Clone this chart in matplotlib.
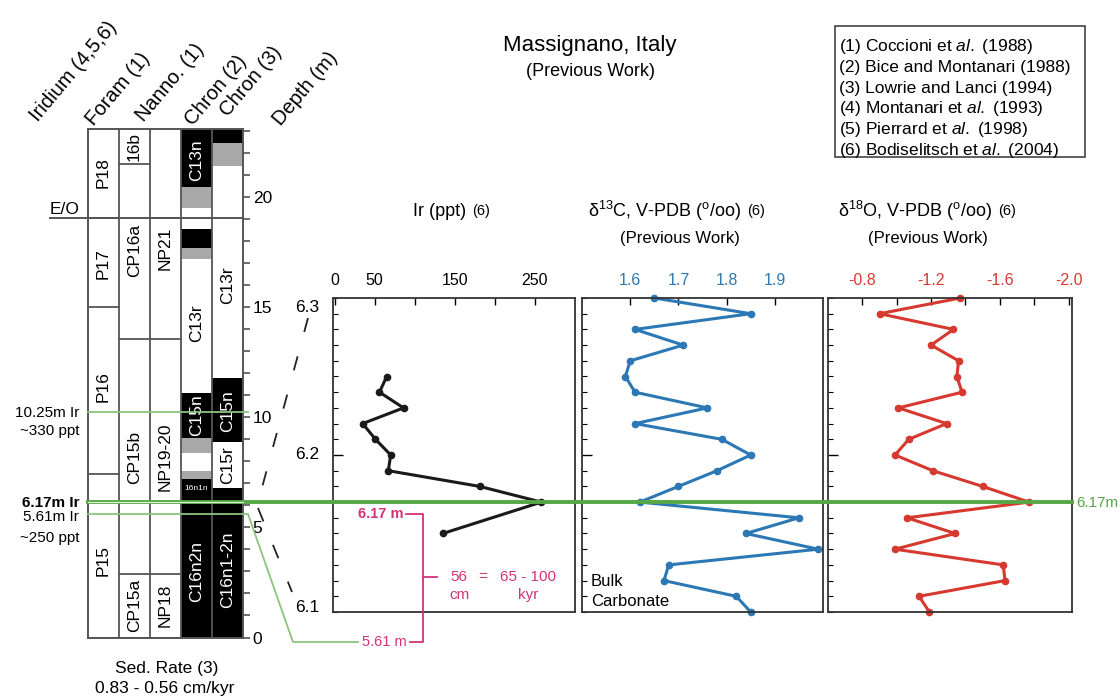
import matplotlib
matplotlib.use('Agg')
import matplotlib.pyplot as plt
from matplotlib.patches import Rectangle
from matplotlib.ticker import MultipleLocator

plt.rcParams['font.family'] = ['Liberation Sans', 'DejaVu Sans']
plt.rcParams['mathtext.fontset'] = 'custom'
plt.rcParams['mathtext.rm'] = 'Liberation Sans'
plt.rcParams['mathtext.it'] = 'Liberation Sans:italic'
plt.rcParams['mathtext.bf'] = 'Liberation Sans:bold'

W, H = 1120, 698

# ---- data ----
ir_depth = [6.25, 6.24, 6.23, 6.22, 6.21, 6.20, 6.19, 6.18, 6.17, 6.15]
ir_ppt = [65, 56, 86, 35, 51, 70, 67, 181, 258, 135]

iso_depth = [6.30, 6.29, 6.28, 6.27, 6.26, 6.25, 6.24, 6.23, 6.22, 6.21, 6.20,
             6.19, 6.18, 6.17, 6.16, 6.15, 6.14, 6.13, 6.12, 6.11, 6.10]
d13c = [1.65, 1.85, 1.61, 1.71, 1.60, 1.59, 1.61, 1.76, 1.61, 1.79, 1.85,
        1.78, 1.70, 1.62, 1.95, 1.84, 1.99, 1.68, 1.67, 1.82, 1.85]
d18o = [-1.37, -0.90, -1.33, -1.20, -1.36, -1.35, -1.38, -1.01, -1.29, -1.07, -0.99,
        -1.21, -1.50, -1.77, -1.06, -1.34, -0.99, -1.62, -1.63, -1.13, -1.19]

col_top = 23.1
eo_depth = 19.05

foram_names = ['P18', 'P17', 'P16', 'P15']
foram_bases = [19.05, 15.0, 7.45, 0]
foram_label_depth = [21.1, 17.0, 11.4, 3.5]

cp_names = ['16b', 'CP16a', 'CP15b', 'CP15a']
cp_bases = [21.5, 13.55, 2.9, 0]
cp_label_depth = [22.3, 17.6, 8.2, 1.45]

np_names = ['', 'NP21', 'NP19-20', 'NP18']
np_bases = [19.05, 13.55, 2.9, 0]
np_label_depth = [21.0, 17.7, 8.2, 1.45]

# polarity: n = normal (black), t = transitional (grey), r = reversed (white)
chron2_tops = [23.1, 20.45, 19.5, 18.55, 17.7, 17.2, 11.1, 9.05, 8.4, 7.55, 7.2]
chron2_bases = [20.45, 19.5, 18.55, 17.7, 17.2, 11.1, 9.05, 8.4, 7.55, 7.2, 0]
chron2_pol = ['n', 't', 'r', 'n', 't', 'r', 'n', 't', 'r', 't', 'n']
chron2_names = ['C13n', 'C13r', 'C15n', 'C16n2n']
chron2_label_depth = [21.7, 14.3, 10.1, 3.0]

chron3_tops = [23.1, 22.45, 21.4, 11.8, 8.9, 6.8]
chron3_bases = [22.45, 21.4, 11.8, 8.9, 6.8, 0]
chron3_pol = ['n', 't', 'r', 'n', 'r', 'n']
chron3_names = ['C13r', 'C15n', 'C15r', 'C16n1-2n']
chron3_label_depth = [16.0, 10.3, 7.85, 3.1]

refs = ['(1) Coccioni et $\\mathit{al.}$ (1988)',
        '(2) Bice and Montanari (1988)',
        '(3) Lowrie and Lanci (1994)',
        '(4) Montanari et $\\mathit{al.}$ (1993)',
        '(5) Pierrard et $\\mathit{al.}$ (1998)',
        '(6) Bodiselitsch et $\\mathit{al.}$ (2004)']

# ---- styles ----
frame_c = '#555555'
blue = '#2b78b4'
red = '#d6392f'
pink = '#d4327a'
g_dark = '#55a845'
g_light = '#8cc47c'
pol_color = {'n': 'black', 't': '#a8a8a8', 'r': 'white'}


def box(x0, y0, x1, y1):
    return [x0 / W, 1 - y1 / H, (x1 - x0) / W, (y1 - y0) / H]


def col_y(d):
    return 637.5 - d * (637.5 - 129) / col_top


def pan_y(d):
    return 298 + (6.3 - d) * 314 / 0.2


fig = plt.figure(figsize=(W / 100, H / 100), dpi=100)

# ---- stratigraphic column ----
ax = fig.add_axes(box(88, 129, 243, 637.5))
ax.set_xlim(0, 5)
ax.set_ylim(0, col_top)

for tops, bases, pol, x in [(chron2_tops, chron2_bases, chron2_pol, 3.5),
                            (chron3_tops, chron3_bases, chron3_pol, 4.5)]:
    for t, b, p in zip(tops, bases, pol):
        ax.bar(x, t - b, bottom=b, width=1, color=pol_color[p], linewidth=0)


def pol_at(tops, bases, pol, d):
    for t, b, p in zip(tops, bases, pol):
        if b <= d <= t:
            return p
    return 'r'


for names, bases, lds, x in [(foram_names, foram_bases, foram_label_depth, 0),
                             (cp_names, cp_bases, cp_label_depth, 1),
                             (np_names, np_bases, np_label_depth, 2)]:
    for name, b, ld in zip(names, bases, lds):
        ax.plot([x, x + 1], [b, b], color=frame_c, lw=1.3)
        ax.text(x + 0.5, ld, name, rotation=90, ha='center', va='center', fontsize=12.5)

for names, lds, tops, bases, pol, x in [
        (chron2_names, chron2_label_depth, chron2_tops, chron2_bases, chron2_pol, 3),
        (chron3_names, chron3_label_depth, chron3_tops, chron3_bases, chron3_pol, 4)]:
    for name, ld in zip(names, lds):
        c = 'white' if pol_at(tops, bases, pol, ld) == 'n' else 'black'
        ax.text(x + 0.5, ld, name, rotation=90, ha='center', va='center',
                fontsize=12.5, color=c)
ax.text(3.5, 6.75, '16n1n', ha='center', va='center', fontsize=6, color='white')

for x in [1, 2, 3, 4]:
    ax.axvline(x, color=frame_c, lw=1.3)
for s in ax.spines.values():
    s.set_color(frame_c)
    s.set_linewidth(1.4)
ax.set_xticks([])
ax.yaxis.tick_right()
ax.set_yticks([0, 5, 10, 15, 20])
ax.yaxis.set_minor_locator(MultipleLocator(1))
ax.tick_params(axis='y', which='both', direction='out', length=5, width=1.2,
               color=frame_c, labelsize=12.5, pad=2)

# ---- data panels ----
panels = []
for (x0, x1) in [(333, 575), (582, 823), (828, 1072)]:
    a = fig.add_axes(box(x0, 298, x1, 612))
    a.set_ylim(6.1, 6.3)
    a.set_yticks([6.2])
    a.set_yticklabels([])
    a.yaxis.set_minor_locator(MultipleLocator(0.01))
    a.tick_params(axis='y', which='major', direction='in', length=7, width=1)
    a.tick_params(axis='y', which='minor', direction='in', length=3.5, width=0.8)
    a.xaxis.tick_top()
    a.tick_params(axis='x', direction='in', length=5, width=1, labelsize=11.5, pad=7)
    for s in a.spines.values():
        s.set_linewidth(1.3)
        s.set_color('#333333')
    panels.append(a)
ax_ir, ax_c, ax_o = panels

ax_ir.plot(ir_ppt, ir_depth, color='#1a1a1a', lw=2.2, marker='o', ms=4.5, clip_on=False)
ax_ir.set_xlim(-2, 300)
ax_ir.set_xticks([0, 50, 100, 150, 200, 250])
ax_ir.set_xticklabels(['0', '50', '', '150', '', '250'])

ax_c.plot(d13c, iso_depth, color=blue, lw=2.2, marker='o', ms=4.5, clip_on=False)
ax_c.set_xlim(1.5, 2.0)
ax_c.set_xticks([1.6, 1.7, 1.8, 1.9])
ax_c.set_xticklabels(['1.6', '1.7', '1.8', '1.9'])
ax_c.tick_params(axis='x', labelcolor=blue)

ax_o.plot(d18o, iso_depth, color=red, lw=2.2, marker='o', ms=4.5, clip_on=False)
ax_o.set_xlim(-0.6, -2.02)
ax_o.set_xticks([-0.8, -1.0, -1.2, -1.4, -1.6, -1.8, -2.0])
ax_o.set_xticklabels(['-0.8', '', '-1.2', '', '-1.6', '', '-2.0'])
ax_o.tick_params(axis='x', labelcolor=red)

# ---- overlay in pixel units for labels and connectors ----
ov = fig.add_axes([0, 0, 1, 1])
ov.set_xlim(0, W)
ov.set_ylim(H, 0)
ov.axis('off')
ov.patch.set_alpha(0)

for s, x, y in [('Iridium (4,5,6)', 38, 122), ('Foram (1)', 94, 126),
                ('Nanno. (1)', 144, 122), ('Chron (2)', 193, 126),
                ('Chron (3)', 228, 117), ('Depth (m)', 281, 126)]:
    ov.text(x, y, s, rotation=50, rotation_mode='anchor', ha='left',
            va='baseline', fontsize=14.5)

ov.plot([50, 243], [col_y(eo_depth)] * 2, color=frame_c, lw=1.4)
ov.text(50, col_y(eo_depth) - 9, 'E/O', ha='left', va='center', fontsize=12.5)

# Ir horizons
ov.plot([88, 248], [col_y(10.25)] * 2, color=g_light, lw=1.3)
ov.plot([88, 1072], [col_y(6.17)] * 2, color=g_dark, lw=2.8)
ov.plot([88, 243], [col_y(6.17)] * 2, color='#dceed6', lw=0.9)
y561 = col_y(5.61)
ov.plot([88, 248, 293, 358], [y561, y561, 642, 642], color=g_light, lw=1.3)

ov.text(79, col_y(10.25) + 1, '10.25m Ir', ha='right', va='center', fontsize=11)
ov.text(79, col_y(10.25) + 19, '~330 ppt', ha='right', va='center', fontsize=11)
ov.text(79, col_y(6.17) + 1, '6.17m Ir', ha='right', va='center', fontsize=11,
        fontweight='bold')
ov.text(79, y561 + 3, '5.61m Ir', ha='right', va='center', fontsize=11)
ov.text(79, y561 + 24, '~250 ppt', ha='right', va='center', fontsize=11)
ov.text(1076, col_y(6.17) + 1, '6.17m', ha='left', va='center', fontsize=11, color=g_dark)

ov.text(167, 668, 'Sed. Rate (3)', ha='center', va='center', fontsize=12.5)
ov.text(165, 688, '0.83 - 0.56 cm/kyr', ha='center', va='center', fontsize=12.5)

# depth mapping between column and panels
ov.plot([308, 260], [318, 495], color='#222222', lw=1.3, ls=(0, (8, 14)))
ov.plot([258, 292], [508, 592], color='#222222', lw=1.3, ls=(0, (8, 14)))
ov.text(319, pan_y(6.3) + 9, '6.3', ha='right', va='center', fontsize=12.5)
ov.text(319, pan_y(6.2), '6.2', ha='right', va='center', fontsize=12.5)
ov.text(319, pan_y(6.1) - 5, '6.1', ha='right', va='center', fontsize=12.5)

# sedimentation bracket
ov.plot([406, 423, 423, 410], [514, 514, 642, 642], color=pink, lw=1.3)
ov.plot([423, 437], [577, 577], color=pink, lw=1.3)
ov.text(404, 514, '6.17 m', ha='right', va='center', fontsize=10.5, color=pink,
        fontweight='bold')
ov.text(407, 642, '5.61 m', ha='right', va='center', fontsize=10.5, color=pink)
ov.text(459, 577, '56', ha='center', va='center', fontsize=11, color=pink)
ov.text(459, 595, 'cm', ha='center', va='center', fontsize=11, color=pink)
ov.text(483, 577, '=', ha='center', va='center', fontsize=11, color=pink)
ov.text(528, 577, '65 - 100', ha='center', va='center', fontsize=11, color=pink)
ov.text(528, 595, 'kyr', ha='center', va='center', fontsize=11, color=pink)

ov.text(591, 582, 'Bulk', ha='left', va='center', fontsize=12)
ov.text(591, 602, 'Carbonate', ha='left', va='center', fontsize=12)

# titles
ov.text(590, 45, 'Massignano, Italy', ha='center', va='center', fontsize=16)
ov.text(590, 72, '(Previous Work)', ha='center', va='center', fontsize=13)

t1 = ov.text(413, 211, 'Ir (ppt)', ha='left', va='center', fontsize=13)
t2 = ov.text(588, 211, 'δ$^{13}$C, V-PDB ($^{\\mathrm{o}}$/oo)', ha='left', va='center',
             fontsize=13)
t3 = ov.text(838, 211, 'δ$^{18}$O, V-PDB ($^{\\mathrm{o}}$/oo)', ha='left', va='center',
             fontsize=13)
for t in [t1, t2, t3]:
    ov.annotate('(6)', xy=(1, 0.5), xycoords=t, xytext=(4, 0), textcoords='offset points',
                ha='left', va='center', fontsize=10.5)
ov.text(680, 238, '(Previous Work)', ha='center', va='center', fontsize=12)
ov.text(928, 238, '(Previous Work)', ha='center', va='center', fontsize=12)

# reference box
ov.add_patch(Rectangle((835, 26), 250, 131, fill=False, ec='#444444', lw=1.2))
for i, r in enumerate(refs):
    ov.text(839, 47 + i * 20.6, r, ha='left', va='center', fontsize=12.5)

fig.savefig('out.png', dpi=100)
